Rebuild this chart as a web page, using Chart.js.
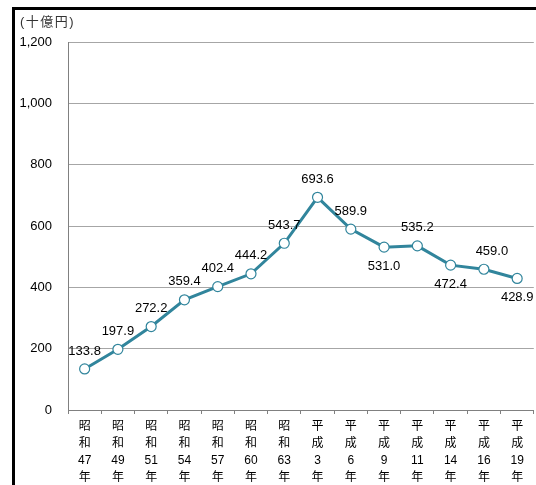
<!DOCTYPE html>
<html>
<head>
<meta charset="utf-8">
<script src="https://cdn.jsdelivr.net/npm/chart.js@4/dist/chart.umd.min.js"></script>
<style>
  html, body { margin: 0; padding: 0; background: #fff; overflow: hidden; }
  #wrap { position: relative; width: 540px; height: 485px; }
  #frame {
    position: absolute; left: 12px; top: 7px; width: 600px; height: 600px;
    border-left: 3px solid #000; border-top: 3px solid #000; pointer-events: none;
  }
</style>
</head>
<body>
<div id="wrap">
  <canvas id="chart" width="540" height="485"></canvas>
  <div id="frame"></div>
</div>
<script>
// Values (billion yen)
const eras = ['昭', '昭', '昭', '昭', '昭', '昭', '昭', '平', '平', '平', '平', '平', '平', '平'];
const eraSecond = ['和', '和', '和', '和', '和', '和', '和', '成', '成', '成', '成', '成', '成', '成'];
const years = ['47', '49', '51', '54', '57', '60', '63', '3', '6', '9', '11', '14', '16', '19'];
const amounts = [133.8, 197.9, 272.2, 359.4, 402.4, 444.2, 543.7, 693.6, 589.9, 531.0, 535.2, 472.4, 459.0, 428.9];
const yTicks = [0, 200, 400, 600, 800, 1000, 1200];
const unitLabel = '(十億円)';

// where each value label sits relative to its point
const labelBelow = [false, false, false, false, false, false, false, false, false, true, false, true, false, true];

const FONT = '"Liberation Sans", Arial, "Noto Sans CJK JP", sans-serif';
const LINE = '#31859c';

const labels = years.map((y, i) => [eras[i], eraSecond[i], y, '年']);

// value labels + unit caption
const valueLabels = {
  id: 'valueLabels',
  afterDatasetsDraw(chart) {
    const ctx = chart.ctx;
    const meta = chart.getDatasetMeta(0);
    ctx.save();
    ctx.font = '13px ' + FONT;
    ctx.fillStyle = '#000';
    ctx.textAlign = 'center';
    ctx.textBaseline = 'middle';
    meta.data.forEach((pt, i) => {
      const dx = i === 12 ? 8 : 0;
      const dy = labelBelow[i] ? 19 : -18;
      ctx.fillText(amounts[i].toFixed(1), pt.x + dx, pt.y + dy);
    });
    ctx.textAlign = 'left';
    ctx.fillStyle = '#333';
    ctx.letterSpacing = '1.5px';
    ctx.fillText(unitLabel, 20, 22);
    ctx.restore();
  }
};

new Chart(document.getElementById('chart'), {
  type: 'line',
  data: {
    labels: labels,
    datasets: [{
      data: amounts,
      borderColor: LINE,
      borderWidth: 3,
      backgroundColor: '#fff',
      pointBackgroundColor: '#fff',
      pointBorderColor: LINE,
      pointBorderWidth: 1.2,
      pointRadius: 5,
      tension: 0,
      fill: false
    }]
  },
  options: {
    responsive: false,
    animation: false,
    events: [],
    layout: { padding: { top: 42, right: 2, left: 0, bottom: 0 } },
    plugins: { legend: { display: false }, tooltip: { enabled: false } },
    scales: {
      x: {
        offset: true,
        grid: { offset: true, drawOnChartArea: false, drawTicks: true, tickLength: 4, color: '#808080' },
        border: { color: '#808080', width: 1 },
        ticks: {
          color: '#000', font: { family: FONT, size: 12, lineHeight: 1.42 },
          padding: 4, maxRotation: 0, autoSkip: false
        },
        afterFit(scale) { scale.height = 75; }
      },
      y: {
        min: 0, max: 1200,
        afterBuildTicks(scale) { scale.ticks = yTicks.map(v => ({ value: v })); },
        grid: { color: '#a6a6a6', drawTicks: false, lineWidth: 1 },
        border: { color: '#808080', width: 1 },
        ticks: {
          color: '#000', font: { family: FONT, size: 13 }, padding: 16,
          callback: v => v.toLocaleString('en-US')
        },
        afterFit(scale) { scale.width = 68; }
      }
    }
  },
  plugins: [valueLabels]
});
</script>
</body>
</html>
